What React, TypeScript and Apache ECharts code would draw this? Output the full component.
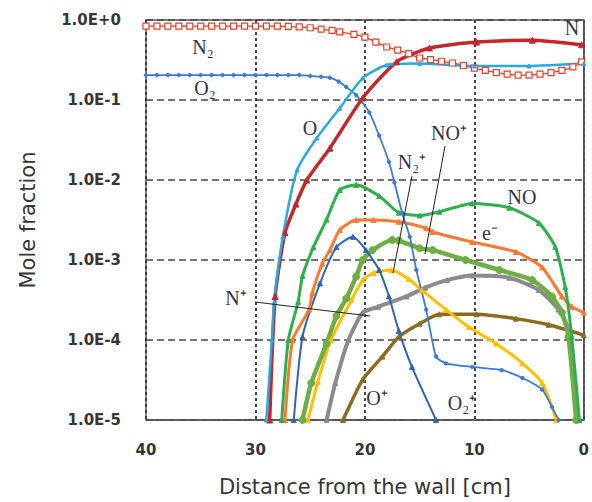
import React, { useEffect, useRef } from "react";
import * as echarts from "echarts";

// x: distance from the wall [cm], y: mole fraction
const xTicks = [40, 30, 20, 10, 0];

const N2 = [
  [40, 0.84], [39, 0.84], [38, 0.84], [37, 0.84], [36, 0.84], [35, 0.84], [34, 0.84],
  [33, 0.84], [32, 0.84], [31, 0.84], [30, 0.84], [29, 0.84], [28, 0.84], [27, 0.83],
  [26, 0.82], [25, 0.8], [24, 0.77], [23, 0.74], [22.3, 0.71], [21, 0.66], [20, 0.61],
  [19, 0.53], [18, 0.46], [17, 0.42], [16, 0.38], [15, 0.335], [14, 0.32], [13, 0.305],
  [12, 0.29], [11, 0.27], [10, 0.25], [9, 0.235], [8, 0.22], [7, 0.21], [6, 0.205],
  [5, 0.205], [4, 0.21], [3, 0.22], [2, 0.235], [1, 0.26], [0.2, 0.3],
];
const O2 = [
  [40, 0.205], [39, 0.205], [38, 0.205], [37, 0.205], [36, 0.205], [35, 0.205], [34, 0.205],
  [33, 0.205], [32, 0.205], [31, 0.205], [30, 0.205], [29, 0.205], [28, 0.205], [27, 0.205],
  [26, 0.205], [25, 0.2], [24, 0.195], [23.2, 0.19], [22.4, 0.17], [21.7, 0.145], [20.8, 0.115],
  [19.6, 0.07], [18.7, 0.036], [17.8, 0.0168], [17.3, 0.0093], [16.6, 0.0039], [15.9, 0.00195],
  [15.3, 0.00075], [14.4, 0.00024], [13.5, 6.2e-5], [12.6, 5.1e-5], [10.2, 4.6e-5], [7.5, 4.2e-5],
  [5.6, 3.35e-5], [3.8, 2.4e-5], [2.9, 1.45e-5], [2.3, 1e-5],
];
const N = [
  [28.7, 1e-5], [28.2, 3.5e-4], [27.3, 2.2e-3], [26.3, 5e-3], [25.3, 0.01], [23.2, 0.025],
  [20.2, 0.106], [17.1, 0.3], [14.1, 0.447], [9.8, 0.53], [4.7, 0.56], [0.2, 0.49],
];
const O = [
  [29.0, 1e-5], [28.5, 1e-4], [28.3, 2.9e-4], [27.5, 1.95e-3], [26.2, 0.0133], [24.4, 0.0335],
  [22.3, 0.079], [20.2, 0.188], [18, 0.274], [15, 0.285], [10, 0.266], [5, 0.266], [0, 0.285],
];
const NO = [
  [27.6, 1e-5], [27.0, 1e-4], [26.1, 3e-4], [25.7, 6.3e-4], [24.7, 1.45e-3], [23.5, 3.2e-3],
  [22.3, 7.5e-3], [20.8, 8.7e-3], [18.7, 6.3e-3], [16.9, 3.9e-3], [15, 3.6e-3], [13.2, 4e-3],
  [10.2, 5.1e-3], [6.8, 4.5e-3], [4.1, 2.9e-3], [2.6, 1.45e-3], [1.7, 4.6e-4], [1.1, 1.1e-4],
  [0.4, 1e-5],
];
const Electron = [
  [27.3, 1e-5], [26.6, 1e-4], [25.1, 2.4e-4], [24.8, 3.9e-4], [23.9, 9e-4], [23.2, 1.33e-3],
  [22.3, 2.37e-3], [20.8, 3.16e-3], [19.2, 3.16e-3], [16.9, 3e-3], [14.4, 2.5e-3], [13.8, 2.24e-3],
  [10.2, 1.68e-3], [6.2, 1.26e-3], [3.8, 8.1e-4], [2.0, 3.5e-4], [1.1, 2.6e-4], [0, 2.2e-4],
];
const N2plus = [
  [25.7, 1e-5], [24.9, 2.9e-5], [23.5, 9e-5], [22.6, 2e-4], [21.7, 3.3e-4], [20.8, 6.2e-4],
  [20.2, 1e-3], [19.3, 1.33e-3], [17.5, 1.78e-3], [16.9, 1.75e-3], [15, 1.4e-3], [13.8, 1.33e-3],
  [10.8, 1e-3], [7.7, 7.5e-4], [4.7, 5.6e-4], [2.9, 3.5e-4], [2.0, 2.2e-4], [1.4, 1.1e-4],
  [0.7, 1e-5],
];
const NOplus = [
  [25.2, 1e-5], [24.3, 3e-5], [23.1, 1e-4], [21.2, 3.2e-4], [20.2, 5.6e-4], [19.2, 6.9e-4],
  [17.6, 7.5e-4], [16.0, 5.8e-4], [14.8, 4.2e-4], [12.6, 2.4e-4], [10.5, 1.45e-4], [8.0, 9e-5],
  [5.6, 5.1e-5], [3.8, 2.9e-5], [2.5, 1e-5],
];
const Nplus = [
  [23.5, 1e-5], [22.7, 2.9e-5], [21.5, 1e-4], [20.2, 2.2e-4], [18.8, 2.6e-4], [16.2, 3.5e-4],
  [14.5, 4.5e-4], [12.5, 5.6e-4], [10.2, 6.4e-4], [6.8, 6e-4], [4.1, 4.2e-4], [2.3, 2.4e-4],
  [1.5, 1.5e-4],
];
const Oplus = [
  [26.5, 1e-5], [25.7, 1.1e-4], [24.1, 5.1e-4], [22.6, 1.45e-3], [21.1, 1.95e-3], [19.9, 1.33e-3],
  [18.7, 7.5e-4], [17.8, 3.5e-4], [16.9, 1.3e-4], [15.7, 4.6e-5], [13.5, 1e-5],
];
const O2plus = [
  [22.0, 1e-5], [20.2, 3.2e-5], [18.4, 6.2e-5], [16.9, 1.1e-4], [15.0, 1.6e-4], [13.2, 2.1e-4],
  [9.8, 2.1e-4], [6.2, 1.85e-4], [3.2, 1.55e-4], [0, 1.15e-4],
];

const speciesLabels = [
  { text: "N₂", x: 203, y: 47 },
  { text: "O₂", x: 205, y: 88 },
  { text: "O", x: 310, y: 128 },
  { text: "N", x: 572, y: 28 },
  { text: "NO⁺", x: 449, y: 133 },
  { text: "N₂⁺", x: 412, y: 162 },
  { text: "NO", x: 522, y: 197 },
  { text: "e⁻", x: 490, y: 233 },
  { text: "N⁺", x: 236, y: 298 },
  { text: "O⁺", x: 377, y: 398 },
  { text: "O₂⁺", x: 462, y: 403 },
];
const leaders = [
  [255, 302, 370, 316],
  [412, 176, 393, 273],
  [445, 146, 425, 254],
];

function line(name: string, data: number[][], color: string, width: number, symbol: string, size: number, extra: any = {}) {
  return {
    name,
    type: "line",
    data,
    smooth: 0.2,
    showSymbol: true,
    showAllSymbol: true,
    symbol,
    symbolSize: size,
    lineStyle: { color, width },
    itemStyle: { color, borderColor: color },
    clip: true,
    ...extra,
  };
}

export default function App() {
  const ref = useRef<HTMLDivElement>(null);
  useEffect(() => {
    const chart = echarts.init(ref.current!, null, { renderer: "svg" });
    const textColor = "#363636";
    chart.setOption({
      animation: false,
      backgroundColor: "#fff",
      grid: { left: 146, right: 7, top: 20, bottom: 82, show: true, borderColor: "#555", borderWidth: 1.5, containLabel: false },
      xAxis: {
        type: "value",
        inverse: true,
        min: 0,
        max: 40,
        interval: 10,
        name: "Distance from the wall [cm]",
        nameLocation: "middle",
        nameGap: 56,
        nameTextStyle: { fontFamily: "DejaVu Sans", fontSize: 21, color: textColor },
        axisLine: { show: true, lineStyle: { color: "#555", width: 1.5 } },
        axisTick: { show: false },
        axisLabel: {
          margin: 22,
          fontFamily: "DejaVu Sans",
          fontSize: 15,
          fontWeight: "bold",
          color: textColor,
          formatter: (v: number) => (xTicks.includes(v) ? String(v) : ""),
        },
        splitLine: { show: true, lineStyle: { color: "#333", type: [3, 3], width: 1.8 } },
      },
      yAxis: {
        type: "log",
        logBase: 10,
        min: 1e-5,
        max: 1,
        name: "Mole fraction",
        nameLocation: "middle",
        nameGap: 108,
        nameTextStyle: { fontFamily: "DejaVu Sans", fontSize: 21, color: textColor },
        axisLine: { show: true, lineStyle: { color: "#555", width: 1.5 } },
        axisTick: { show: false },
        axisLabel: {
          margin: 25,
          fontFamily: "DejaVu Sans",
          fontSize: 15,
          fontWeight: "bold",
          color: textColor,
          formatter: (v: number) => {
            const e = Math.round(Math.log10(v));
            return "1.0E" + (e >= 0 ? "+" : "") + e;
          },
        },
        splitLine: { show: true, lineStyle: { color: "#444", type: [7, 4], width: 1.5 } },
      },
      series: [
        line("O₂⁺", O2plus, "#8C6B1F", 3.5, "triangle", 5),
        line("N⁺", Nplus, "#8B8B8B", 4, "triangle", 5),
        line("NO⁺", NOplus, "#FFBF00", 3, "triangle", 5),
        line("N₂⁺", N2plus, "#6EAE45", 4.5, "circle", 7),
        line("O⁺", Oplus, "#2F64B9", 2, "triangle", 5),
        line("e⁻", Electron, "#F47B30", 3, "triangle", 5),
        line("NO", NO, "#2DB04B", 3, "triangle", 5),
        line("O₂", O2, "#3A7BD5", 1.8, "circle", 3.5),
        line("N₂", N2, "#E8402A", 1.3, "rect", 6, { itemStyle: { color: "#fff", borderColor: "#E8402A", borderWidth: 1.2 } }),
        line("N", N, "#C0282A", 3.5, "triangle", 6),
        line("O", O, "#2AA8E0", 2.5, "triangle", 4),
      ],
      graphic: [
        ...leaders.map((l) => ({
          type: "line",
          shape: { x1: l[0], y1: l[1], x2: l[2], y2: l[3] },
          style: { stroke: "#222", lineWidth: 1 },
          z: 100,
        })),
        ...speciesLabels.map((s) => ({
          type: "text",
          x: s.x,
          y: s.y,
          z: 100,
          style: {
            text: s.text,
            font: "20px 'Liberation Serif'",
            fill: "#34344c",
            textAlign: "center",
            textVerticalAlign: "middle",
            align: "center",
            verticalAlign: "middle",
          },
        })),
      ],
    });
    return () => chart.dispose();
  }, []);
  return <div ref={ref} style={{ position: "fixed", left: 0, top: 0, width: 592, height: 502 }} />;
}
